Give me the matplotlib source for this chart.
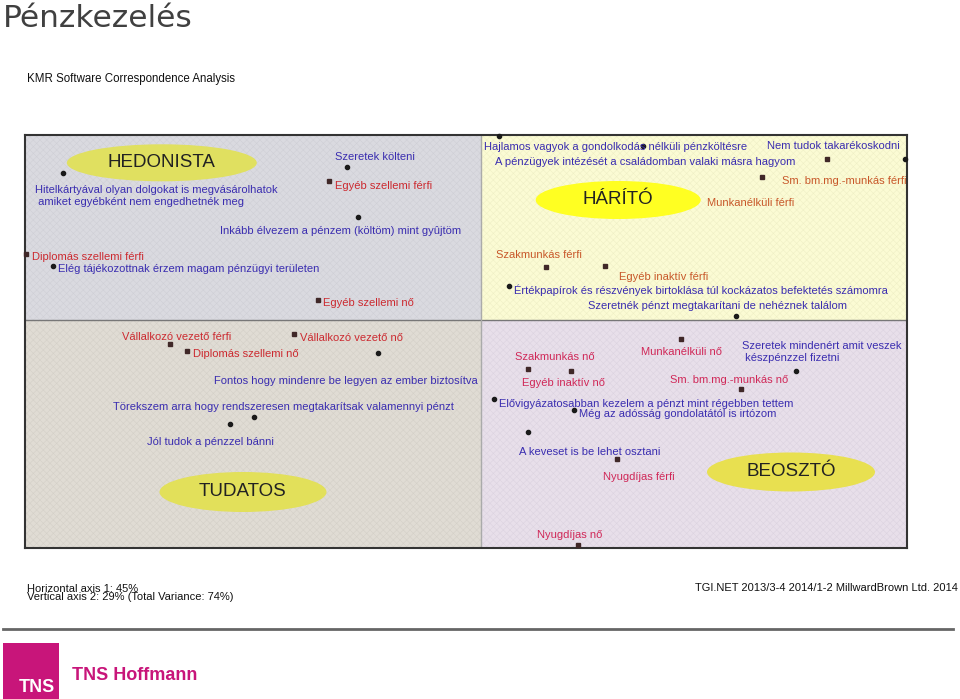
import matplotlib
matplotlib.use("Agg")
import matplotlib.pyplot as plt
from matplotlib.patches import Ellipse, Rectangle
from matplotlib.lines import Line2D

# attitude statements (blue dots), CA coordinates
stmt_labels = [
    "Hitelkártyával olyan dolgokat is megvásárolhatok\n amiket egyébként nem engedhetnék meg",
    "Szeretek költeni",
    "Inkább élvezem a pénzem (költöm) mint gyûjtöm",
    "Elég tájékozottnak érzem magam pénzügyi területen",
    "Hajlamos vagyok a gondolkodás nélküli pénzköltésre",
    "A pénzügyek intézését a családomban valaki másra hagyom",
    "Nem tudok takarékoskodni",
    "Értékpapírok és részvények birtoklása túl kockázatos befektetés számomra",
    "Szeretnék pénzt megtakarítani de nehéznek találom",
    "Fontos hogy mindenre be legyen az ember biztosítva",
    "Törekszem arra hogy rendszeresen megtakarítsak valamennyi pénzt",
    "Jól tudok a pénzzel bánni",
    "Szeretek mindenért amit veszek\n készpénzzel fizetni",
    "Elővigyázatosabban kezelem a pénzt mint régebben tettem",
    "Még az adósság gondolatától is irtózom",
    "A keveset is be lehet osztani",
]
stmt_x = [-1.045, -0.335, -0.308, -1.070, 0.405, 0.045, 1.060, 0.070,
          0.638, -0.258, -0.568, -0.628, 0.788, 0.033, 0.233, 0.118]
stmt_y = [0.368, 0.383, 0.258, 0.135, 0.435, 0.460, 0.403, 0.085,
          0.010, -0.083, -0.243, -0.260, -0.128, -0.198, -0.225, -0.280]

# demographic groups (squares), CA coordinates
demo_labels = [
    "Egyéb szellemi férfi", "Diplomás szellemi férfi", "Egyéb szellemi nő",
    "Sm. bm.mg.-munkás férfi", "Munkanélküli férfi", "Szakmunkás férfi",
    "Egyéb inaktív férfi", "Vállalkozó vezető férfi", "Vállalkozó vezető nő",
    "Diplomás szellemi nő", "Munkanélküli nő", "Szakmunkás nő",
    "Egyéb inaktív nő", "Sm. bm.mg.-munkás nő", "Nyugdíjas férfi", "Nyugdíjas nő",
]
demo_x = [-0.380, -1.138, -0.408, 0.703, 0.865, 0.163, 0.310, -0.778,
          -0.468, -0.735, 0.500, 0.118, 0.225, 0.650, 0.340, 0.243]
demo_y = [0.348, 0.165, 0.050, 0.358, 0.403, 0.133, 0.135, -0.060,
          -0.035, -0.078, -0.048, -0.123, -0.128, -0.173, -0.348, -0.563]

# segment names and ellipse centres
seg_labels = ["HEDONISTA", "HÁRÍTÓ", "TUDATOS", "BEOSZTÓ"]
seg_x = [-0.798, 0.343, -0.595, 0.775]
seg_y = [0.393, 0.300, -0.430, -0.380]

# label anchor positions in figure pixels (layout only)
stmt_pos = [(35, 196), (335, 157), (220, 231), (58, 269), (484, 147), (495, 162),
            (767, 146), (514, 290), (588, 306), (214, 381), (113, 407), (147, 442),
            (742, 352), (499, 404), (579, 414), (519, 452)]
demo_pos = [(335, 186), (32, 257), (323, 303), (782, 181), (707, 203), (496, 255),
            (619, 277), (122, 337), (300, 338), (193, 354), (641, 352), (515, 357),
            (522, 383), (670, 380), (603, 477), (537, 535)]

W, H = 960, 699
fig = plt.figure(figsize=(W / 100, H / 100), dpi=100)


def fx(px):
    return px / W


def fy(py):
    return 1 - py / H


plt.rcParams["font.family"] = ["Liberation Sans", "DejaVu Sans"]

# plot area
left, right, top, bottom = 25, 907, 135, 548
ax = fig.add_axes([fx(left), fy(bottom), (right - left) / W, (bottom - top) / H])
x0, x1 = -1.14, 1.065
y0, y1 = -0.57, 0.4625
ax.set_xlim(x0, x1)
ax.set_ylim(y0, y1)
ax.set_xticks([])
ax.set_yticks([])

plt.rcParams["hatch.linewidth"] = 0.4
quads = [((x0, 0), -x0, y1, "#dadae0", "#cfcfd6"),
         ((0, 0), x1, y1, "#fbfbd4", "#efefc6"),
         ((x0, y0), -x0, -y0, "#e0dcd4", "#d4d0c8"),
         ((0, y0), x1, -y0, "#e8dfea", "#dcd3e0")]
for xy, w, h, fc, hc in quads:
    ax.add_patch(Rectangle(xy, w, h, facecolor=fc, edgecolor=hc, hatch="xxxxx",
                           linewidth=0, zorder=0))
ax.axhline(0, color="#777777", lw=1, zorder=1)
ax.axvline(0, color="#aaaaaa", lw=1, zorder=1)
for s in ax.spines.values():
    s.set_color("#333333")
    s.set_linewidth(1.5)

# segment ellipses
seg_w = [0.475, 0.4125, 0.4175, 0.42]
seg_h = [0.0925, 0.095, 0.10, 0.0975]
seg_fc = ["#e0e060", "#ffff22", "#e2e05a", "#e8e050"]
for name, cx, cy, w, h, fc in zip(seg_labels, seg_x, seg_y, seg_w, seg_h, seg_fc):
    ax.add_patch(Ellipse((cx, cy), w, h, facecolor=fc, edgecolor="none", zorder=2))
    ax.text(cx, cy, name, ha="center", va="center", fontsize=13.5, color="#222222",
            family=["Liberation Sans"], zorder=3)

# points
ax.plot(stmt_x, stmt_y, "o", ms=3, color="#1a1a1a", zorder=4, clip_on=False)
ax.plot(demo_x, demo_y, "s", ms=3.2, color="#402828", zorder=4, clip_on=False)

blue = "#3a2db0"
for lab, (px, py) in zip(stmt_labels, stmt_pos):
    fig.text(fx(px), fy(py), lab, ha="left", va="center", fontsize=8,
             color=blue, linespacing=1.15, zorder=5)

for lab, x, y, (px, py) in zip(demo_labels, demo_x, demo_y, demo_pos):
    if y >= 0 and x >= 0:
        c = "#c8582a"
    elif x >= 0:
        c = "#d02858"
    else:
        c = "#cc2a30"
    fig.text(fx(px), fy(py), lab, ha="left", va="center", fontsize=8,
             color=c, zorder=5)

# headings
fig.text(fx(3), fy(27), "Pénzkezelés", ha="left", va="baseline", fontsize=22.5,
         color="#404040", family=["DejaVu Sans"])
fig.text(fx(27), fy(79), "KMR Software Correspondence Analysis", ha="left",
         va="center", fontsize=8.3, color="#111111")

# footer (the two axis lines overlap in the original as well)
narrow = ["Liberation Sans Narrow", "Liberation Sans"]
fig.text(fx(27), fy(589), "Horizontal axis 1: 45%", ha="left", va="center",
         fontsize=8, family=narrow, color="#111111")
fig.text(fx(27), fy(597), "Vertical axis 2: 29% (Total Variance: 74%)", ha="left",
         va="center", fontsize=8, family=narrow, color="#111111")
fig.text(fx(958), fy(588), "TGI.NET 2013/3-4 2014/1-2 MillwardBrown Ltd. 2014",
         ha="right", va="center", fontsize=8, color="#111111")
fig.add_artist(Line2D([fx(3), fx(953)], [fy(629), fy(629)], color="#666666", lw=2))

# logo
fig.add_artist(Rectangle((fx(3), fy(699)), 56 / W, 56 / H, transform=fig.transFigure,
                         facecolor="#c8157a", edgecolor="none"))
fig.text(fx(37), fy(688), "TNS", ha="center", va="center", fontsize=13,
         fontweight="bold", color="white", family=narrow)
fig.text(fx(72), fy(676), "TNS Hoffmann", ha="left", va="center", fontsize=13,
         fontweight="bold", color="#c8157a")

fig.savefig("out.png", dpi=100)
